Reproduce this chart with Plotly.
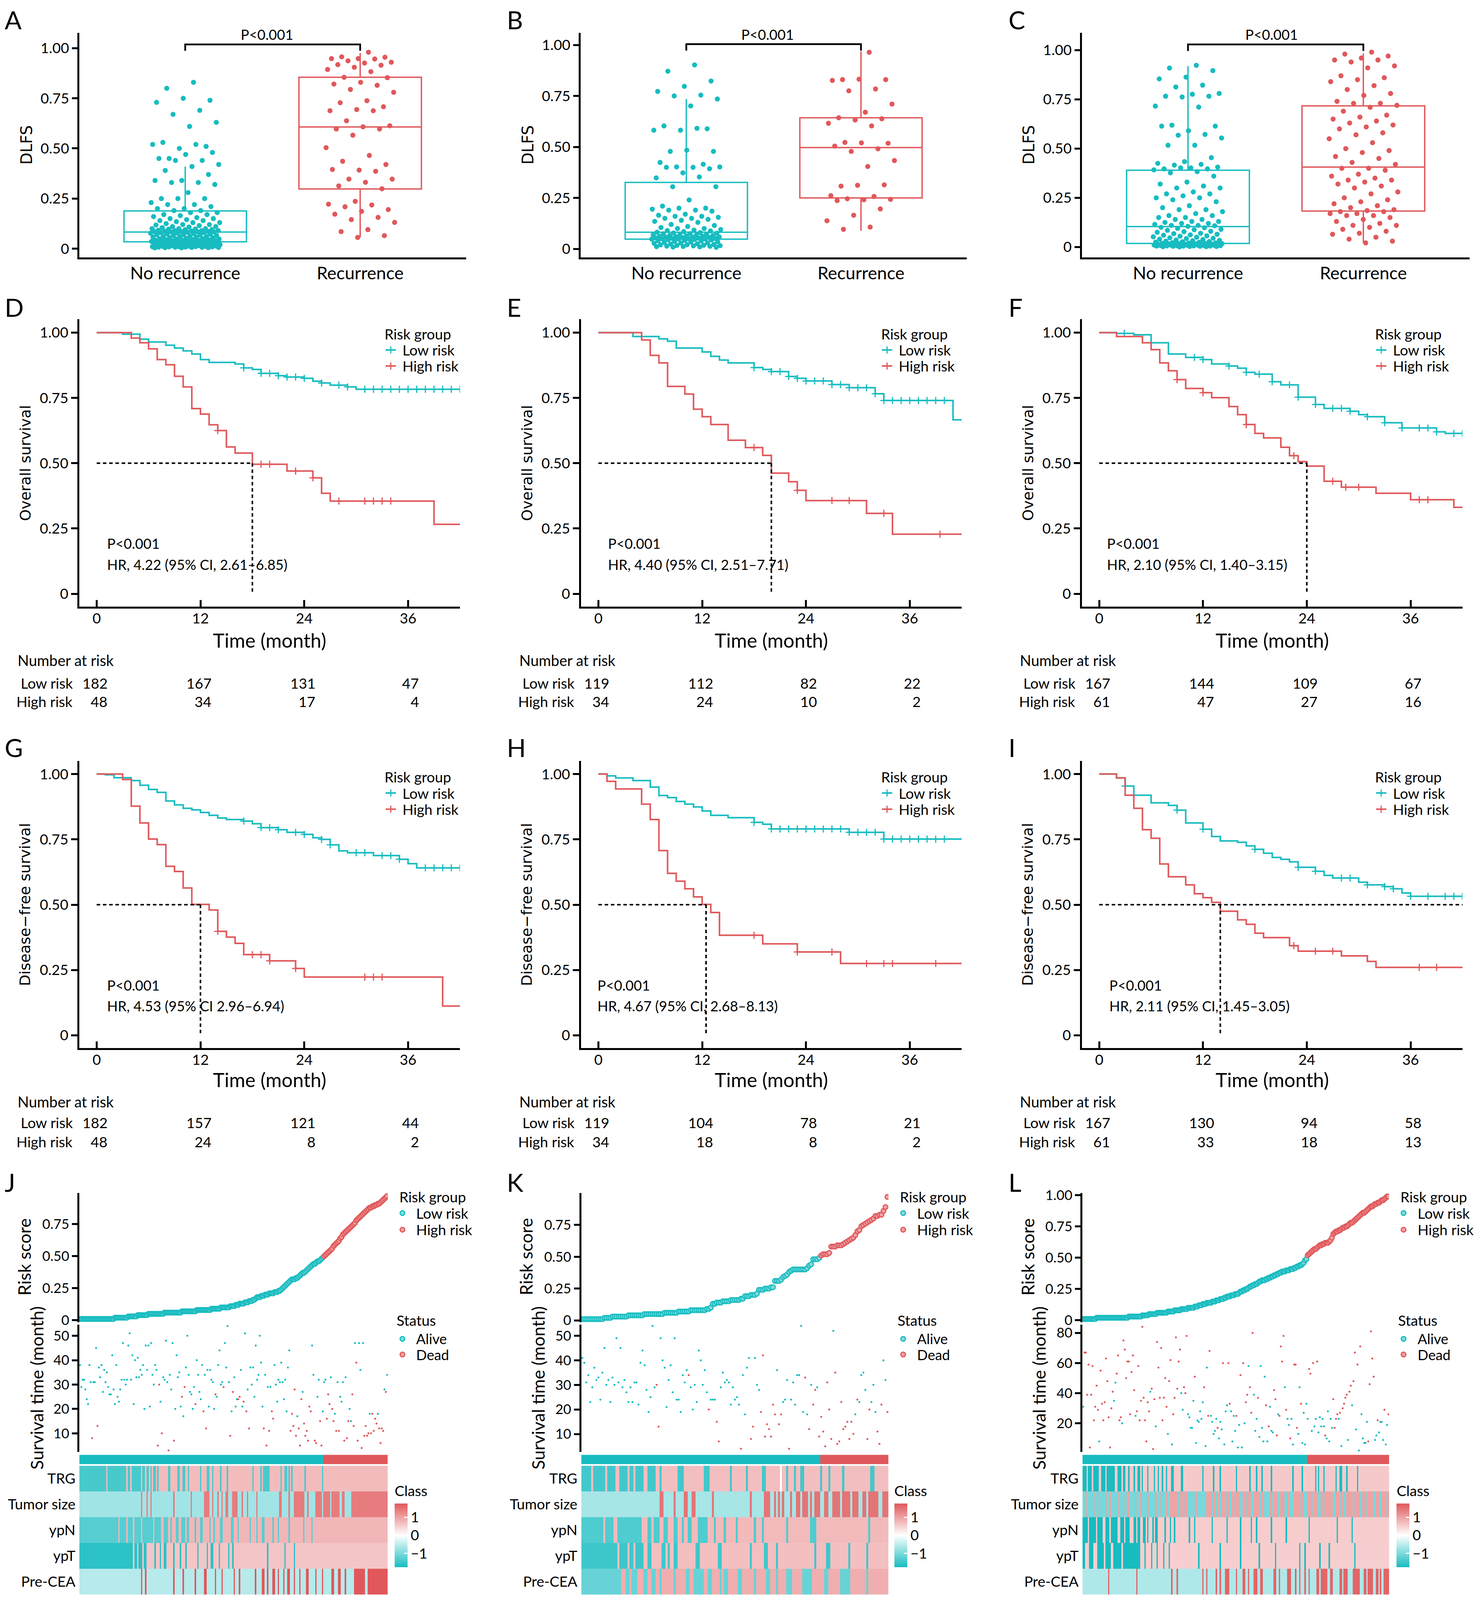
import numpy as np
import plotly.graph_objects as go

# ============================ DATA ============================
# ---- A-C: DLFS values by recurrence status ----
A_no_rec = [0.83,0.80,0.74,0.75,0.73,0.69,0.67,0.63,0.61,0.53,0.51,0.50,0.52,0.52,0.45,0.48,0.47,0.45,0.44,0.44,
            0.42,0.41,0.39,0.37,0.34,0.34,0.33,0.33,0.32,0.28,0.25,0.25,0.25,0.23,0.22,0.22,0.21,0.20,0.20,0.19,0.19,
            0.18,0.18,0.17,0.17,0.165,0.16,0.155,0.15,0.15,0.145,0.14,0.14,0.135,0.13,0.13,0.125,0.12,0.12,0.118,0.115,
            0.11,0.11,0.108,0.105,0.10,0.10,0.10,0.098,0.097,0.095,0.094,0.092,0.09,0.09,0.09,0.088,0.087,0.086,0.085,
            0.085,0.084,0.084,0.083,0.082,0.08,0.08,0.078,0.077,0.075,0.074,0.072,0.07,0.07,0.068,0.066,0.065,0.063,
            0.062,0.06,0.06,0.058,0.057,0.055,0.054,0.052,0.05,0.05,0.049,0.048,0.046,0.045,0.044,0.043,0.042,0.041,
            0.04,0.04,0.039,0.038,0.037,0.037,0.036,0.035,0.035,0.034,0.034,0.033,0.032,0.031,0.03,0.03,0.029,0.028,
            0.027,0.026,0.025,0.025,0.024,0.023,0.022,0.021,0.02,0.02,0.019,0.018,0.017,0.016,0.015,0.015,0.014,0.013,
            0.012,0.012,0.011,0.01,0.01,0.01,0.009,0.009,0.008,0.008,0.007,0.007,0.006,0.006,0.005,0.005,0.004,0.004]
A_rec = [0.98,0.957,0.955,0.948,0.948,0.946,0.937,0.930,0.926,0.918,0.915,0.905,0.894,0.883,0.855,0.853,0.83,
         0.821,0.815,0.794,0.78,0.738,0.728,0.708,0.694,0.688,0.688,0.638,0.613,0.608,0.597,0.597,0.566,0.504,
         0.465,0.436,0.42,0.392,0.395,0.386,0.347,0.347,0.331,0.313,0.299,0.236,0.222,0.218,0.209,0.195,0.186,
         0.172,0.156,0.145,0.131,0.095,0.085,0.065,0.056]
B_no_rec = [0.902,0.871,0.823,0.797,0.772,0.754,0.75,0.735,0.701,0.603,0.589,0.582,0.582,0.591,0.478,0.478,0.484,
            0.424,0.415,0.402,0.402,0.4,0.4,0.393,0.373,0.348,0.353,0.305,0.305,
            0.24,0.21,0.2,0.2,0.195,0.19,0.19,0.185,0.17,0.165,0.16,0.16,0.155,0.15,0.15,0.145,0.14,0.135,0.13,0.12,
            0.115,0.11,0.105,0.1,0.1,0.095,0.092,0.09,0.088,0.085,
            0.082,0.08,0.078,0.077,0.075,0.074,0.072,0.07,0.069,0.068,0.066,0.065,0.064,0.062,0.061,0.06,0.059,0.058,
            0.057,0.056,0.055,0.054,0.053,0.052,0.051,0.05,0.05,0.049,0.049,0.048,
            0.047,0.045,0.044,0.042,0.04,0.039,0.037,0.035,0.034,0.032,0.03,0.029,0.027,0.025,0.024,0.022,0.021,0.02,
            0.018,0.017,0.016,0.015,0.014,0.013,0.012,0.011,0.01,0.009,0.008]
B_rec = [0.964,0.83,0.83,0.832,0.826,0.784,0.775,0.71,0.67,0.643,0.638,0.632,0.616,0.603,0.522,0.518,0.52,0.504,
         0.491,0.478,0.433,0.404,0.308,0.314,0.312,0.261,0.257,0.246,0.243,0.241,0.237,0.196,0.165,0.138,0.107,0.096]
C_no_rec = [0.923,0.909,0.896,0.863,0.854,0.822,0.813,0.78,0.776,0.766,0.766,0.762,0.716,0.711,0.619,0.614,0.591,
            0.614,0.572,0.568,0.554,0.517,0.517,0.454,0.434,0.425,0.42,0.416,0.406,0.402,0.397,0.397,0.402,0.392,
            0.383,0.377,
            0.36,0.33,0.32,0.31,0.3,0.3,0.28,0.27,0.27,0.26,0.25,0.25,0.24,0.23,0.21,0.2,0.19,0.19,0.18,0.17,0.16,
            0.16,0.15,0.15,0.14,0.14,0.13,0.13,0.125,0.12,0.12,0.115,0.11,0.11,0.108,0.105,
            0.1,0.098,0.095,0.09,0.088,0.085,0.08,0.078,0.075,0.07,0.068,0.065,0.062,0.06,0.057,0.055,0.052,0.05,
            0.047,0.045,0.043,0.04,0.038,0.036,0.034,0.032,0.03,0.028,0.027,0.025,0.024,0.022,0.021,0.02,0.019,
            0.018,0.017,0.017,0.016,0.016,0.015,0.015,0.014,0.014,0.013,0.013,0.012,0.012,0.011,0.011,0.01,0.01,
            0.01,0.009,0.009,0.008,0.008,0.007,0.007,0.006,0.006,0.005,0.005,0.005,0.004,0.004,0.003,0.003,0.002,
            0.002,0.001]
C_rec = [0.99,0.98,0.97,0.96,0.95,0.95,0.94,0.92,0.91,0.87,0.86,0.85,0.84,0.82,0.8,0.78,0.77,0.74,0.73,0.73,0.72,
         0.71,0.69,0.67,0.66,0.65,0.64,0.63,0.62,0.61,0.6,0.58,0.57,0.55,0.53,0.5,0.49,0.48,0.46,0.45,0.43,0.42,
         0.40,0.40,0.39,0.37,0.36,0.35,0.34,0.34,0.33,0.32,0.31,0.30,0.28,0.27,0.25,0.24,0.23,0.22,0.21,0.2,0.19,
         0.185,0.18,0.18,0.17,0.17,0.16,0.16,0.15,0.14,0.13,0.12,0.11,0.11,0.1,0.09,0.08,0.07,0.065,0.05,0.04,
         0.03,0.021]
# box statistics: [q1, median, q3, lower whisker, upper whisker]
A_no_rec_box = [0.034, 0.083, 0.188, 0.004, 0.41]
A_rec_box = [0.298, 0.607, 0.855, 0.056, 0.976]
B_no_rec_box = [0.048, 0.082, 0.326, 0.008, 0.735]
B_rec_box = [0.25, 0.497, 0.643, 0.089, 0.969]
C_no_rec_box = [0.018, 0.104, 0.39, 0.001, 0.919]
C_rec_box = [0.183, 0.406, 0.717, 0.021, 0.983]
BOX_CATS = ["No recurrence", "Recurrence"]

# ---- D-I: Kaplan-Meier step points (time in months, survival), censor times ----
D_low_t = [0,3,5,6,8,9,10,11,12,13,16,17,18,19,21,22,24,25,26,27,29,30,42]
D_low_s = [1,0.994,0.975,0.964,0.952,0.941,0.930,0.918,0.897,0.886,0.880,0.865,0.859,0.844,0.835,0.830,0.825,
           0.814,0.807,0.799,0.792,0.783,0.783]
D_low_c = [17,19,20,21,22,23,24,26,28,29,31,32,33,34,35,36,37,38,39,40,41,42]
D_high_t = [0,4,5,6,7,8,9,10,11,12,13,14,15,16,18,22,25,26,27,39,42]
D_high_s = [1,0.979,0.961,0.938,0.897,0.877,0.833,0.792,0.709,0.688,0.647,0.625,0.562,0.539,0.496,0.470,0.444,
            0.385,0.355,0.266,0.266]
D_high_c = [14,19,20,23,25,28,31,32,33,34]

E_low_t = [0,4,7,8,9,12,13,14,15,18,19,20,22,23,24,27,29,32,33,41,42]
E_low_s = [1,0.985,0.976,0.967,0.941,0.926,0.909,0.895,0.884,0.866,0.859,0.851,0.832,0.825,0.815,0.801,0.789,
           0.766,0.740,0.666,0.666]
E_low_c = [18,20,21,22,23,24,25,26,27,28,29,30,31,32,33,34,35,36,37,38,39,40]
E_high_t = [0,5,6,7,8,10,11,12,13,15,17,19,20,22,23,24,31,34,42]
E_high_s = [1,0.972,0.913,0.884,0.794,0.765,0.707,0.678,0.648,0.588,0.560,0.530,0.462,0.429,0.396,0.357,0.308,
            0.228,0.228]
E_high_c = [18,23,27,29,33,39.5]

F_low_t = [0,2,4,6,8,10,12,13,15,16,17,18,20,21,23,25,26,29,30,31,33,35,39,40,42]
F_low_s = [1,0.997,0.992,0.961,0.918,0.905,0.897,0.88,0.872,0.864,0.848,0.841,0.812,0.80,0.753,0.725,0.71,0.699,
           0.686,0.678,0.655,0.635,0.62,0.614,0.614]
F_low_c = [2.9,11,12,15,17,18.5,20,22,23,25,27,28,29,31,33,35,37,38,39,41,42]
F_high_t = [0,2,5,6,7,8,9,10,12,13,15,16,17,18,19,21,22,23,24,26,28,32,36,41,42]
F_high_s = [1,0.985,0.961,0.935,0.884,0.854,0.82,0.786,0.77,0.751,0.717,0.686,0.648,0.614,0.597,0.561,0.529,
            0.506,0.489,0.431,0.408,0.385,0.36,0.331,0.331]
F_high_c = [9,12,17,22.5,27,28.5,30,37,38]

G_low_t = [0,1,2,4,5,6,7,8,9,10,11,12,13,14,15,17,18,19,21,22,24,25,26,27,28,29,32,35,36,37,42]
G_low_s = [1,0.997,0.986,0.975,0.957,0.941,0.930,0.897,0.882,0.869,0.863,0.853,0.842,0.832,0.826,0.820,0.810,
           0.795,0.787,0.777,0.769,0.756,0.750,0.729,0.706,0.699,0.688,0.674,0.657,0.641,0.641]
G_low_c = [17,19,20,21,23,24,26,27,30,31,33,34,35,38,39,40,41,42]
G_high_t = [0,3,4,5,6,7,8,9,10,11,13,14,15,16,17,20,23,24,40,42]
G_high_s = [1,0.979,0.877,0.813,0.751,0.73,0.647,0.627,0.564,0.501,0.480,0.398,0.376,0.352,0.309,0.285,0.256,
            0.223,0.112,0.112]
G_high_c = [14,18,19,20,23,31,32,33]

H_low_t = [0,1,2,4,6,7,8,9,10,11,12,13,15,18,19,20,29,33,42]
H_low_s = [1,0.993,0.985,0.975,0.95,0.918,0.91,0.895,0.885,0.874,0.859,0.842,0.833,0.815,0.808,0.79,0.777,0.751,0.751]
H_low_c = [18,20,21,22,23,24,25,26,27,28,29,30,31,32,33,34,35,36,37,38,39,40]
H_high_t = [0,1,2,5,6,7,8,9,10,11,12,13,14,19,23,28,42]
H_high_s = [1,0.972,0.943,0.885,0.826,0.707,0.62,0.59,0.561,0.53,0.501,0.47,0.383,0.35,0.319,0.275,0.275]
H_high_c = [18,23,27,31,33,34,39]

I_low_t = [0,2,3,4,6,8,9,10,12,13,14,16,17,18,19,20,21,22,23,25,26,27,30,31,33,34,35,36,42]
I_low_s = [1,0.985,0.954,0.919,0.89,0.88,0.862,0.813,0.789,0.761,0.744,0.739,0.725,0.712,0.697,0.681,0.674,
           0.664,0.643,0.628,0.612,0.602,0.586,0.576,0.569,0.561,0.545,0.532,0.532]
I_low_c = [3,9,12,18,23,25,28,29,31,33,34,36,38,40,41,42]
I_high_t = [0,2,3,4,5,6,7,8,10,11,12,13,14,16,17,18,19,22,23,28,31,32,42]
I_high_s = [1,0.985,0.919,0.869,0.787,0.754,0.656,0.607,0.576,0.542,0.527,0.509,0.475,0.442,0.425,0.391,0.374,
            0.343,0.322,0.304,0.283,0.26,0.26]
I_high_c = [22.5,25,27,37,39]

# median survival guide lines: [horizontal end, vertical position]
MEDIAN_LINES = {"D": [18, 18], "E": [20, 20], "F": [24, 24], "G": [12, 12], "H": [12.45, 12.45], "I": [42, 14]}
# numbers at risk at 0, 12, 24, 36 months
NAR_TIMES = [0, 12, 24, 36]
NAR = {"D": ([182,167,131,47], [48,34,17,4]), "E": ([119,112,82,22], [34,24,10,2]),
       "F": ([167,144,109,67], [61,47,27,16]), "G": ([182,157,121,44], [48,24,8,2]),
       "H": ([119,104,78,21], [34,18,8,2]), "I": ([167,130,94,58], [61,33,18,13])}
HR_TEXT = {"D": "HR, 4.22 (95% CI, 2.61–6.85)", "E": "HR, 4.40 (95% CI, 2.51–7.71)",
           "F": "HR, 2.10 (95% CI, 1.40–3.15)", "G": "HR, 4.53 (95% CI 2.96–6.94)",
           "H": "HR, 4.67 (95% CI, 2.68–8.13)", "I": "HR, 2.11 (95% CI, 1.45–3.05)"}

# ---- J-L: sorted risk scores (x100), survival time, status, clinical features ----
J_n_low = 182
J_risk = [1,1,1,1,1,1,1,1,1,1,1,1,1,1,1,1,1,1,1,1,1,1,1,1,1,1,2,2,2,2,2,2,2,
          2,2,2,3,3,3,3,3,3,3, 4,4,4,4,4,4,4,4,5,5,5,5,
          5,5,5,5,5,5,5,5,6,6,6,6,6,6,6,6,6,6,6,
          6,6,7,7,7,7,7,7,7,7,7,7,7,8,8,8,8,8,8,8,8,8,
          8,8,9,9,9,9,9,9,9,10,10,10,10,10, 10,10,11,11,11,11,12,12,12,13,13,13,
          13,14,14,14,15,15,15,16,16,17, 18,18,18,19,19,19,20,20,20,21,21,21,21,22,
          22,22,23,23,24, 25,26,27,28, 29,30,31,32,32,32,33,33, 34,35,36,37,37, 38,39,40,41,42,
          43,44,44,45,46,46,47,48,49,
          50,51,52,53,54,55,56,58, 59,60,61,62,64,65,67, 68,69,70,71,72,73,74,75,76,78,
          79,80,81,82,83,84,85,86,87, 88,88,89,89,90,90,91,91,92,93, 94,95,96,97]
J_time = [38,29,32,32,28,24,22,38,31,8, 31,31,45,13,37,33,38,27,36,31, 35,
          29,26,26,42,28,22,38,25,23,28, 32,47,32,30,32,46,51,32,42,22, 40,
          33,41,33,36,34,38,20,46,36,46, 21,47,34,30,38,36,5,30,23,10, 33,
          32,48,31,3,34,28,47,7,20,42, 33,35,21,25,17,29,37,50,34,27, 26,
          20,29,22,40,34,27,24,38,19,34, 12,36,21,36,32,31,20,26,25,38, 44,
          30,31,29,47,37,54,31,9,19,27, 33,21,24,24,25,36,21,23,51,19, 28,
          12,37,30,37,25,46,32,34,50,39, 21,12,34,5,29,11,29,19,16,38, 30,
          23,32,31,39,31,24,32,19,37,44, 11,18,13,28,9,17,12,5,24,27, 14,
          9,11,7,21,19,46,34,7,6,25, 32,15,5,19,31,32,16,26,22,33, 20,
          15,18,11,31,11,25,23,31,7,33, 8,15,20,15,26,13,47,39,7,47, 36,
          4,47,9,13,9,10,18,10,18,11, 16, 14,18,12,6,12,11,28,27,34]
J_status = ("aaaaaaaaad" "aaadaaaaaa" "a" "aaaaaaaaaa" "aaaaaaaaaa" "a" "aaaaaaaaaa" "aaaaaaddad" "a"
            "aaadaaadaa" "aaadadaaaa" "a" "aadaaaaada" "daaaaaadaa" "a" "aadaaaadad" "aaaddaadad" "a"
            "daaaaaaaaa" "adadadadda" "a" "aaaaaaaaaa" "dddddaddda" "d" "dddddaadda" "addaaaddda" "d"
            "dadadaaada" "ddaaddadda" "a" "daddddaddd" "d" "daddddada")
# clinical features as alternating run lengths (first run = low/teal level)
J_rows = {
    "TRG": [20,1,14,1,2,1,7,1,2,1,2,1,1,1,2,1,1,7,2,5,2,2,2,2,1,8,1,4,2,2,1,5,1,4,1,18,1,5,1,1,5,8,1,2,2,1,1,1,1,
            9,1,12,1,48],
    "Tumor size": [46,1,3,1,2,1,16,1,12,1,9,4,2,1,3,1,2,1,2,2,3,4,3,1,3,1,6,1,16,2,5,1,3,8,2,1,5,5,1,5,1,6,2,2,5,27],
    "ypN": [29,1,5,1,4,1,5,1,8,1,5,2,3,2,1,3,2,2,3,1,2,4,1,3,2,5,1,2,1,4,2,6,2,3,1,8,1,4,1,3,2,6,1,3,1,7,1,10,1,5,
            1,56],
    "ypT": [40,1,2,1,3,1,2,6,1,3,1,2,2,5,1,4,1,3,1,8,1,6,1,2,2,4,1,6,1,2,1,25,1,12,1,6,1,69],
    "Pre-CEA": [46,1,2,1,20,1,6,1,8,1,6,2,6,1,4,1,8,1,3,1,11,1,4,2,2,1,3,2,2,1,3,1,2,2,3,1,3,1,4,2,5,1,4,1,6,2,3,
                2,3,1,6,8,2,15],
}
J_missing = []

K_n_low = 119
K_risk = [1,1,1,1,1,1,1,1,1,1,1,2,2,2,2, 3,3,3,3,3,3,3,3,4,4,4,4,4,4,4,4,
          5,5,5,5,5,5,5,5,5,5,6,6,6,6,6,6,6, 7,7,7,7,7,7,8,8,8, 8,8,8,8,8,9,9,10,
          13,13,14,14,14,15,15,15,15,16,16,16,16,16,17,17, 19,19,19,20,20,20,21, 24,24,24,25,25,25,26,26,
          31,31,31,32,34,35,36,38,39, 40,40,40,40,40,40,40,41, 43,44,48,48,48,49,
          51,52,52,52,53, 58,58,58,59,59,59,60, 61,62,63,64,65,67, 70,71,74,75,76,77,78, 79,80,82,82,83,83,
          86,89,97]
K_time = [41,39,31,34,23,29,37,32,33,24, 35,45,30,32,23,33,30,49,31,45, 29,32,27,23,29,23,31,31,22,39,
          44,38,28,19,25,54,29,30,13,49, 40,37,21,32,38,27,49,24,24,19, 34,31,36,34,29,20,30,23,44,40,
          30,36,27,20,24,24,24,15,7,29, 35,31,32,31,22,29,24,25,22,4, 34,18,37,41,8,13,41,30,28,19,
          42,9,14,12,9,22,18,36,14,18, 23,24,32,4,24,31,22,34,34,54, 19,33,18,12,30,22,28,29,9,17,
          11,5,31,20,8,52,35,6,7,23, 12,13,15,8,15,10,18,24,23,34, 35,28,8,20,23,30,19,11,6,22, 40,32,19]
K_status = ("aaaaaaaaaa" "aaaaaaaaaa" "aaaaaaaaaa" "aaaaaaadda" "aaaaaaaaaa" "aaadaaaaaa" "aaadaaadda"
            "aaaaaaaaad" "aaaaddaaad" "dddddddadd" "aaadaaaaaa" "adadaddadd" "dddddadddd" "ddddddadaa"
            "aaddaaaddd" "aad")
K_rows = {
    "TRG": [5,1,6,1,4,2,4,1,2,1,4,2,4,2,1,8,3,10,3,10,1,7,1,7,2,10,1,3,1,2,2,8,1,3,1,6,1,13,2,7],
    "Tumor size": [39,2,5,1,4,2,2,2,8,1,18,1,6,3,2,1,1,1,1,1,3,1,2,2,1,3,1,1,1,3,2,2,2,4,1,4,1,3,2,2,1,5,2,3],
    "ypN": [11,1,4,2,12,3,2,1,3,2,2,3,2,2,1,2,2,3,5,3,1,4,1,5,1,8,1,3,1,11,1,11,3,26,1,9],
    "ypT": [18,1,4,1,2,1,4,2,2,5,2,1,1,2,2,9,2,9,2,14,1,6,2,4,1,18,1,5,2,9,1,8,1,10],
    "Pre-CEA": [20,2,2,1,3,3,2,2,2,2,1,6,1,5,2,2,5,2,2,4,1,1,2,5,2,6,1,5,2,3,1,4,3,5,5,6,2,6,5,8,1,10],
}
K_missing = [("TRG", 99)]

L_n_low = 167
L_risk = [1,1,1,1,1,1,1,1,1,1,2,2,2,2,
          2,2,2,2,2,2,2,2,2,2,2,2,2,2,2,2,2,2,2,2,3,3,3,3,3,3,3,3,
          3,3,4,4,4,4,4,5,5,5,5, 5,5,6,6,6,6,6,6,6,6, 7,7,7,7,7,8,8,8,8, 8,9,9,9,9,9,10,10,10,10,10,
          11,11,11,12,12,12,13, 13,13,14,14,14,14,15,15,15, 16,16,16,17,17,17,18,
          18,19,19,19,20,20,20,21,21,21,22, 23,23,24,24,25,25,26, 27,27,28,28,29,29,30,
          31,31,32,32,32,33,33,34,34, 35,35,36,36,37,37,38, 38,39,39,39,40,40,40,41,41,41,42,42,
          43,43,44,44,45,46,48,49,
          52,53,54,55,56,57,57,58,59,60, 60,61,61,62,62,62,63,64,66, 69,70,71,71, 72,72,73,74,74,75,75,76,
          77,78,78,79,80,81,82, 83,84,85,86,86,87,88,89,90, 91,91,92,93,93,94,94, 95,96,96,97,98,99,99]
L_time = [31,67,67,39,59,4,39,58,22,31, 45, 29,8,55,33,22,34,63,48,24,4, 30,
          41,35,47,53,65,22,24,20,75,69, 50, 61,61,26,54,65,42,25,28,58,22, 35,
          84,37,22,8,34,28,41,43,3,36, 18, 74,57,37,70,22,37,50,31,13,48, 62,
          6,26,37,77,43,61,69,40,29,44, 40, 78,26,24,17,17,35,51,7,22,21, 28,
          23,34,44,5,57,25,68,25,21,13, 15, 23,17,10,21,16,60,6,28,32,60, 33,
          28,8,25,15,25,4,19,52,4,60, 20, 34,39,58,44,27,80,39,15,23,37, 11,
          58,17,8,51,32,8,18,31,15,14, 42, 36,12,26,25,71,61,78,44,29,23, 19,
          10,23,6,59,59,17,13,44,33,7, 27, 6,33,23,56,53,15,60,18,23,61, 14,
          24,18,23,18,12,10,28,8,23,17, 36, 17,23,26,23,27,5,30,33,37,39, 9,
          41,45,32,48,67,16,59,2,71,26, 10,7,7,21,8,46,81,63,51,9, 12,22,14,21,21,9,29,6,19,26]
L_status = ("addddddddd" "d" "dadddddddd" "d" "daaddddadd" "d" "ddddddaddd" "d" "ddddddaddd" "a"
            "ddddddddad" "d" "addddddaad" "d" "daaaaadaaa" "a" "aadaaddaaa" "a" "adaaadaaad" "d"
            "aaaadaadad" "a" "ddadddaaad" "a" "aaaadadaaa" "d" "ddaddddada" "a" "daadddaada" "a"
            "aaaddadaad" "a" "aaaadaaaaa" "d" "dddadadddd" "a" "ddaddadada" "aaaaddddda" "adaaaadaad")
L_rows = {
    "TRG": [3,1,3,1,4,2,3,1,6,2,3,1,2,2,1,3,1,2,2,1,1,3,1,4,1,2,1,2,1,2,1,3,2,5,2,14,1,7,1,4,1,11,1,9,1,4,1,3,1,
            6,1,15,1,6,1,9,1,1,1,3,1,8,1,2,2,3,1,7,1,23],
    "Tumor size": [2,1,5,1,3,1,4,1,2,1,5,1,3,1,2,2,4,1,3,1,5,1,4,1,3,1,3,1,2,6,1,1,1,2,1,1,4,1,1,1,7,4,1,2,1,2,
                   1,3,1,2,2,1,1,4,2,2,1,3,2,5,1,2,4,2,1,3,2,3,2,2,3,4,1,2,3,4,1,3,2,3,1,5,2,3,1,2,2,5,1,4,2,
                   3,1,4,2,3,1,3,1,2],
    "ypN": [4,1,5,1,4,2,3,1,5,2,3,1,3,3,2,1,2,2,2,1,1,3,1,1,2,5,1,3,1,2,1,10,1,3,1,12,1,10,1,9,1,7,1,3,1,10,1,10,
            1,16,1,20,1,10,1,27],
    "ypT": [2,3,3,3,5,1,4,2,6,1,13,3,1,4,1,3,1,4,1,3,1,21,1,15,1,14,1,13,1,11,1,17,1,3,1,10,1,6,1,18,1,25],
    "Pre-CEA": [19,1,20,1,25,1,3,1,18,1,2,1,6,1,2,1,3,3,5,1,4,2,2,1,3,3,2,2,8,2,2,1,5,3,3,1,2,1,3,1,2,1,5,2,1,5,
                2,2,5,2,1,3,4,5,3,2,1,4,2,2,1,1,2,4],
}
L_missing = []
FEATURES = ["TRG", "Tumor size", "ypN", "ypT", "Pre-CEA"]

# ============================ STYLE / LAYOUT ============================
W, H = 1366.0, 1568.0          # layout units (fractions of the page)
FONT = "Lato"
YFONT = "DejaVu Sans"
TEAL = "#17BCC0"
RED = "#E0585B"
TEAL_L = "#86DADC"
RED_L = "#F0A3A4"


def fx(p):
    return p / W


def fy(p):
    return 1.0 - p / H


fig = go.Figure()
lay = dict(autosize=True, margin=dict(l=0, r=0, t=0, b=0, pad=0), paper_bgcolor="white",
           plot_bgcolor="rgba(0,0,0,0)", showlegend=False,
           font=dict(family=FONT, size=37, color="black"))
ann = []
n_ax = [0]


def axes(xd, yd, xr, yr, xopt=None, yopt=None):
    n_ax[0] += 1
    k = n_ax[0]
    s = "" if k == 1 else str(k)
    base = dict(showgrid=False, zeroline=False, showline=False, ticks="", showticklabels=False,
                linecolor="black", linewidth=4.5, tickcolor="black", tickwidth=4.5,
                tickfont=dict(family=FONT, size=37, color="black"), fixedrange=True)
    xa = dict(base, domain=[fx(xd[0]), fx(xd[1])], range=xr, anchor="y" + s)
    ya = dict(base, domain=[fy(yd[0]), fy(yd[1])], range=yr, anchor="x" + s)
    if xopt:
        xa.update(xopt)
    if yopt:
        ya.update(yopt)
    lay["xaxis" + s] = xa
    lay["yaxis" + s] = ya
    return "x" + s, "y" + s


def txt(x, y, s, size=37, xa="center", ya="middle", angle=0, family=FONT, xref="paper", yref="paper"):
    ann.append(dict(x=fx(x) if xref == "paper" else x, y=fy(y) if yref == "paper" else y, text=s,
                    showarrow=False, xanchor=xa, yanchor=ya, textangle=angle, xref=xref, yref=yref,
                    font=dict(family=family, size=size, color="black")))


def jitter(n, w=0.2):
    return np.array([((i + 1) * 0.6180339887498949) % 1.0 - 0.5 for i in range(n)]) * 2 * w


legend_marks = []   # (x, y, kind, color) in layout units


# ---------------- A-C box plots ----------------
def box_panel(x0, x1, yr, nr, r, nr_box, r_box, bracket, p_x):
    xa, ya = axes((x0, x1), (247.5, 26), [0.395, 2.605], yr,
                  xopt=dict(showline=True, tickvals=[1, 2], ticktext=BOX_CATS, showticklabels=True,
                            tickfont=dict(family=FONT, size=45, color="black"), ticklabelstandoff=-2),
                  yopt=dict(showline=True, ticks="outside", ticklen=14, tickvals=[0, .25, .5, .75, 1],
                            ticktext=["0", "0.25", "0.50", "0.75", "1.00"], showticklabels=True))
    for k, (vals, st, col) in enumerate([(nr, nr_box, TEAL), (r, r_box, RED)]):
        pos = k + 1
        fig.add_trace(go.Box(x=[pos], q1=[st[0]], median=[st[1]], q3=[st[2]], lowerfence=[st[3]],
                             upperfence=[st[4]], width=0.7, whiskerwidth=0, boxpoints=False,
                             line=dict(color=col, width=3.5), fillcolor="rgba(0,0,0,0)",
                             xaxis=xa, yaxis=ya, hoverinfo="skip"))
        fig.add_trace(go.Scatter(x=pos + jitter(len(vals)), y=vals, mode="markers",
                                 marker=dict(color=col, size=13), xaxis=xa, yaxis=ya, hoverinfo="skip"))
    lo, hi = bracket
    fig.add_trace(go.Scatter(x=[1, 1, 2, 2], y=[lo, hi, hi, lo], mode="lines",
                             line=dict(color="black", width=4.5), xaxis=xa, yaxis=ya, hoverinfo="skip",
                             cliponaxis=False))
    txt(p_x, 27.3, "P&lt;0.001", size=36)
    txt(x0 - 49, 136.5, "DLFS", size=40, angle=-90, family=YFONT)


box_panel(73.4, 431, [-0.043, 1.076], A_no_rec, A_rec, A_no_rec_box, A_rec_box, (0.987, 1.019), 247)
box_panel(537, 894, [-0.041, 1.0586], B_no_rec, B_rec, B_no_rec_box, B_rec_box, (0.972, 1.004), 710)
box_panel(1000.6, 1359, [-0.052, 1.0873], C_no_rec, C_rec, C_no_rec_box, C_rec_box, (0.996, 1.029), 1176)

# ---------------- D-I Kaplan-Meier ----------------
ROWS = {
    2: dict(yd=(592.4, 308.5), yr=[-0.049, 1.052], p_y=0.193, hr_y=0.112, time_y=625.6, nar_y=645.5,
            low_y=668, high_y=686, leg=(323, 339, 354.8), title="Overall survival", yc=450.5),
    3: dict(yd=(1028.2, 745), yr=[-0.048, 1.0496], p_y=0.192, hr_y=0.113, time_y=1059.6, nar_y=1081.3,
            low_y=1102, high_y=1120.6, leg=(760.6, 776.5, 792.5), title="Disease−free survival", yc=886.6),
}


def step_at(t, s, c):
    return s[int(np.searchsorted(t, c, side="right")) - 1]


def km_panel(key, x0, row, low, high, p_dx, leg_x):
    R = ROWS[row]
    xa, ya = axes((x0, x0 + 352), R["yd"], [-2, 42], R["yr"],
                  xopt=dict(showline=True, ticks="inside", ticklen=17, tickvals=NAR_TIMES,
                            ticktext=[str(v) for v in NAR_TIMES], showticklabels=True, ticklabelstandoff=-6),
                  yopt=dict(showline=True, ticks="outside", ticklen=16, tickvals=[0, .25, .5, .75, 1],
                            ticktext=["0", "0.25", "0.50", "0.75", "1.00"], showticklabels=True))
    for (t, s, c), col in [(low, TEAL), (high, RED)]:
        fig.add_trace(go.Scatter(x=t, y=s, mode="lines", line=dict(color=col, width=4, shape="hv"),
                                 xaxis=xa, yaxis=ya, hoverinfo="skip"))
        cy = [step_at(t, s, ci) for ci in c]
        fig.add_trace(go.Scatter(x=c, y=cy, mode="markers", xaxis=xa, yaxis=ya, hoverinfo="skip",
                                 marker=dict(symbol="cross-thin", size=13, color=col, line=dict(color=col, width=3))))
    mh, mv = MEDIAN_LINES[key]
    dl = dict(color="black", width=4, dash="9px,7px")
    fig.add_trace(go.Scatter(x=[0, mh], y=[0.5, 0.5], mode="lines", line=dl, xaxis=xa, yaxis=ya, hoverinfo="skip"))
    fig.add_trace(go.Scatter(x=[mv, mv], y=[0.5, 0], mode="lines", line=dl, xaxis=xa, yaxis=ya, hoverinfo="skip"))
    txt(p_dx, R["p_y"], "P&lt;0.001", size=36, xa="left", xref=xa, yref=ya)
    txt(p_dx, R["hr_y"], HR_TEXT[key], size=36, xa="left", xref=xa, yref=ya)
    txt(x0 + 176, R["time_y"], "Time (month)", size=50)
    txt(x0 - 50, R["yc"], R["title"], size=38, angle=-90, family=YFONT)
    txt(x0 - 58, R["nar_y"], "Number at risk", size=38, xa="left")
    txt(x0 - 5.5, R["low_y"], "Low risk", size=37, xa="right")
    txt(x0 - 5.5, R["high_y"], "High risk", size=37, xa="right")
    lows, highs = NAR[key]
    for tt, a, b in zip(NAR_TIMES, lows, highs):
        txt(tt + 1.35, R["low_y"], str(a), size=37, xa="right", xref=xa)
        txt(tt + 1.35, R["high_y"], str(b), size=37, xa="right", xref=xa)
    ty, ly, hy = R["leg"]
    txt(leg_x, ty, "Risk group", size=37, xa="left")
    txt(leg_x + 16.6, ly, "Low risk", size=37, xa="left")
    txt(leg_x + 16.6, hy, "High risk", size=37, xa="left")
    legend_marks.append((leg_x + 6.4, ly, "km", TEAL))
    legend_marks.append((leg_x + 6.4, hy, "km", RED))


km_panel("D", 73.4, 2, (D_low_t, D_low_s, D_low_c), (D_high_t, D_high_s, D_high_c), 1.1, 355)
km_panel("E", 537.4, 2, (E_low_t, E_low_s, E_low_c), (E_high_t, E_high_s, E_high_c), 1.0, 814)
km_panel("F", 1000.6, 2, (F_low_t, F_low_s, F_low_c), (F_high_t, F_high_s, F_high_c), 0.8, 1271)
km_panel("G", 73.4, 3, (G_low_t, G_low_s, G_low_c), (G_high_t, G_high_s, G_high_c), 1.1, 355)
km_panel("H", 537.4, 3, (H_low_t, H_low_s, H_low_c), (H_high_t, H_high_s, H_high_c), -0.2, 814)
km_panel("I", 1000.6, 3, (I_low_t, I_low_s, I_low_c), (I_high_t, I_high_s, I_high_c), 1.1, 1271)


# ---------------- J-L risk score / survival / heatmap ----------------
def fit(a, n):
    a = list(a)
    return a[:n] + [a[-1]] * max(0, n - len(a))


def expand(runs, n):
    out = []
    for i, r in enumerate(runs):
        out += [float(i % 2)] * r
    return fit(out, n)


ROW4_TICKFONT = dict(family=FONT, size=35, color="black")


def risk_panel(x0, x1, risk, times, status, n_low, rows, missing, rs_range, rs_ticks, rs_text,
               sv_range, sv_ticks, rs_tx, sv_tx, leg_x, mark_x, status_x, class_x):
    n = len(risk)
    idx = np.arange(1, n + 1)
    rs = np.array(risk) / 100.0
    tm = np.array(fit(times, n), dtype=float)
    st = np.array(list(fit(list(status), n)))
    low = idx <= n_low
    xr = [0.5, n + 0.5]
    # risk score
    xa, ya = axes((x0, x1), (1299.3, 1171.6), xr, rs_range,
                  yopt=dict(showline=True, ticks="outside", ticklen=14, tickvals=rs_ticks, ticktext=rs_text,
                            showticklabels=True, tickfont=ROW4_TICKFONT))
    for m, col, fill in [(low, TEAL, TEAL_L), (~low, RED, RED_L)]:
        fig.add_trace(go.Scatter(x=idx[m], y=rs[m], mode="markers", xaxis=xa, yaxis=ya, hoverinfo="skip",
                                 marker=dict(color=fill, size=12, line=dict(color=col, width=3))))
    # survival time
    xa2, ya2 = axes((x0, x1), (1427.1, 1301.3), xr, sv_range,
                    yopt=dict(showline=True, ticks="outside", ticklen=14, tickvals=sv_ticks,
                              ticktext=[str(v) for v in sv_ticks], showticklabels=True, tickfont=ROW4_TICKFONT))
    for code, col in [("a", TEAL), ("d", RED)]:
        m = st == code
        fig.add_trace(go.Scatter(x=idx[m], y=tm[m], mode="markers", xaxis=xa2, yaxis=ya2, hoverinfo="skip",
                                 marker=dict(color=col, size=5)))
    # risk group bar
    xa3, ya3 = axes((x0, x1), (1439.4, 1430), xr, [-0.5, 0.5])
    fig.add_trace(go.Heatmap(z=[[0 if g else 1 for g in low]], x=idx, y=[0], zmin=0, zmax=1, showscale=False,
                             colorscale=[[0, TEAL], [0.5, TEAL], [0.5, RED], [1, RED]], xaxis=xa3, yaxis=ya3,
                             hoverinfo="skip"))
    # clinical feature heatmap (row-scaled)
    z = []
    for f in FEATURES:
        v = np.array(expand(rows[f], n))
        for (ff, col_i) in missing:
            if ff == f:
                v[col_i] = np.nan
        z.append(((v - np.nanmean(v)) / np.nanstd(v, ddof=1)).tolist())
    xa4, ya4 = axes((x0, x1), (1568, 1440.8), xr, [4.5, -0.5],
                    yopt=dict(tickvals=[0, 1, 2, 3, 4], ticktext=FEATURES, showticklabels=True,
                              ticklabelstandoff=9))
    fig.add_trace(go.Heatmap(z=z, x=idx, y=[0, 1, 2, 3, 4], zmin=-1.77, zmax=1.77, xaxis=xa4, yaxis=ya4,
                             colorscale=[[0, TEAL], [0.5, "#FFFFFF"], [1, RED]], hoverinfo="skip",
                             colorbar=dict(title=dict(text="Class", side="top", font=dict(family=FONT, size=37)),
                                           x=fx(class_x), xanchor="left", y=fy(1541.0), yanchor="bottom",
                                           len=(1541.0 - 1459.0) / H, lenmode="fraction", thickness=33,
                                           outlinewidth=0, tickvals=[-1, 0, 1], ticktext=["−1", "0", "1"],
                                           ticks="inside", ticklen=9, tickcolor="white", tickwidth=3,
                                           tickfont=dict(family=FONT, size=37), xpad=0, ypad=0)))
    txt(rs_tx, 1234.5, "Risk score", size=45, angle=-90)
    txt(sv_tx, 1364, "Survival time (month)", size=45, angle=-90)
    txt(leg_x, 1175, "Risk group", size=37, xa="left")
    txt(mark_x + 12.1, 1191.3, "Low risk", size=37, xa="left")
    txt(mark_x + 12.1, 1207.7, "High risk", size=37, xa="left")
    txt(status_x, 1297, "Status", size=37, xa="left")
    txt(mark_x + 12.1, 1315.5, "Alive", size=36, xa="left")
    txt(mark_x + 12.1, 1331, "Dead", size=36, xa="left")
    legend_marks.append((mark_x, 1191.3, "dot", TEAL))
    legend_marks.append((mark_x, 1207.7, "dot", RED))
    legend_marks.append((mark_x, 1315.5, "dot", TEAL))
    legend_marks.append((mark_x, 1331, "dot", RED))


risk_panel(73.4, 358.7, J_risk, J_time, J_status, J_n_low, J_rows, J_missing, [-0.017, 0.993],
           [0, .25, .5, .75], ["0", "0.25", "0.50", "0.75"], [2.4, 54.65], [10, 20, 30, 40, 50],
           22.5, 34, 368.6, 372.2, 366.2, 365)
risk_panel(537.6, 821.7, K_risk, K_time, K_status, K_n_low, K_rows, K_missing, [-0.016, 1.0],
           [0, .25, .5, .75], ["0", "0.25", "0.50", "0.75"], [2.75, 54.6], [10, 20, 30, 40, 50],
           486.6, 497.6, 831.4, 835.3, 829.4, 827.1)
risk_panel(1001.1, 1284.7, L_risk, L_time, L_status, L_n_low, L_rows, L_missing, [-0.017, 1.017],
           [0, .25, .5, .75, 1], ["0", "0.25", "0.50", "0.75", "1.00"], [1.1, 85.6], [20, 40, 60, 80],
           950.5, 961, 1294.6, 1298.1, 1292.3, 1291.7)

# ---------------- panel letters ----------------
for lab, x, y in [("A", 3.6, 12.8), ("B", 468, 12.8), ("C", 932, 12.8),
                  ("D", 3.6, 297), ("E", 468, 297), ("F", 932, 297),
                  ("G", 3.6, 731.5), ("H", 468, 731.5), ("I", 932, 731.5),
                  ("J", 3.6, 1161), ("K", 468, 1161), ("L", 932, 1161)]:
    txt(x, y, lab, size=64, xa="left")

# ---------------- legend keys (overlay in layout units) ----------------
xo, yo = axes((0, W), (H, 0), [0, W], [H, 0])
lay["xaxis" + xo[1:]]["visible"] = False
lay["yaxis" + yo[1:]]["visible"] = False
for (mx, my, kind, col) in legend_marks:
    if kind == "km":
        fig.add_trace(go.Scatter(x=[mx - 4.8, mx + 4.8], y=[my, my], mode="lines", line=dict(color=col, width=4),
                                 xaxis=xo, yaxis=yo, hoverinfo="skip"))
        fig.add_trace(go.Scatter(x=[mx], y=[my], mode="markers", xaxis=xo, yaxis=yo, hoverinfo="skip",
                                 marker=dict(symbol="cross-thin", size=13, color=col, line=dict(color=col, width=3))))
    else:
        fill = TEAL_L if col == TEAL else RED_L
        fig.add_trace(go.Scatter(x=[mx], y=[my], mode="markers", xaxis=xo, yaxis=yo, hoverinfo="skip",
                                 marker=dict(color=fill, size=12, line=dict(color=col, width=3))))

lay["annotations"] = ann
fig.update_layout(**lay)

# fill the browser window exactly (no page margin, no scrollbars)
POST = ("document.documentElement.style.margin='0';document.body.style.margin='0';"
        "document.documentElement.style.overflow='hidden';document.body.style.overflow='hidden';"
        "var gd=document.getElementById('{plot_id}');gd.style.width='100vw';gd.style.height='100vh';"
        "Plotly.Plots.resize(gd);")
fig.write_html("out.html", config={"displayModeBar": False, "responsive": True},
               default_width="100vw", default_height="100vh", post_script=POST)
